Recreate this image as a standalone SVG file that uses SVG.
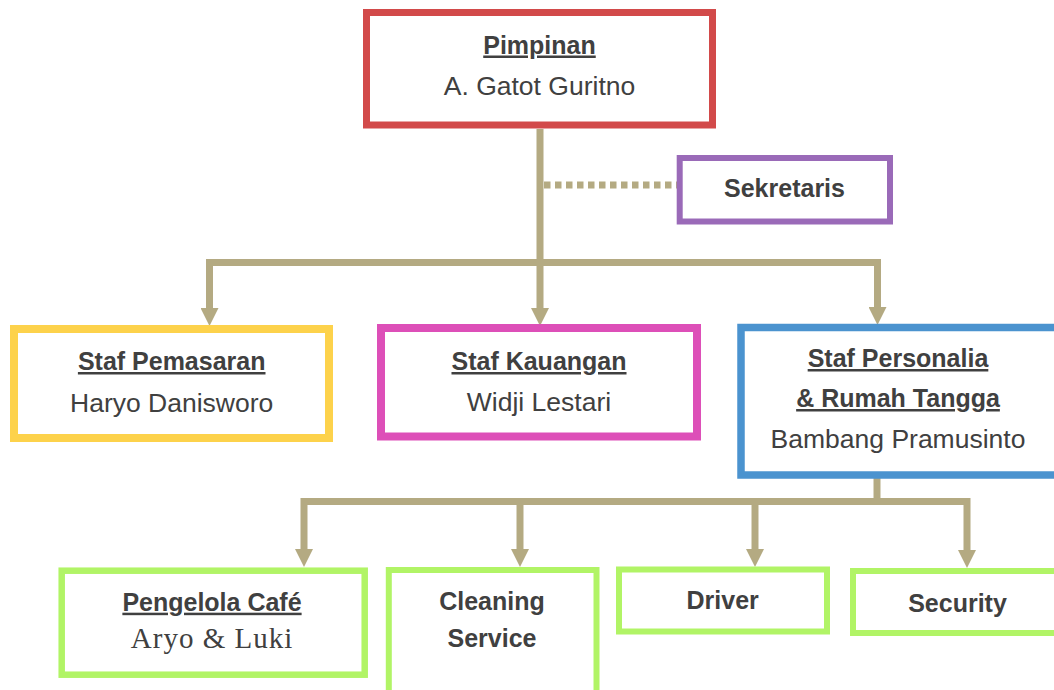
<svg xmlns="http://www.w3.org/2000/svg" width="1054" height="690" viewBox="0 0 1054 690">
  <style>
    .box { fill: #ffffff; }
    .t { font-family: "Liberation Sans", Arial, sans-serif; fill: #404040; text-anchor: middle; }
    .h { font-weight: bold; font-size: 25px; }
    .u { text-decoration: underline; }
    .n { font-size: 26.5px; }
    .s { font-family: "Liberation Serif", "Times New Roman", serif; font-size: 29px; letter-spacing: 1px; fill: #404040; text-anchor: middle; }
    .conn { fill: none; stroke: #b4aa82; stroke-width: 7; stroke-linejoin: miter; }
    .arr { marker-end: url(#ah); }
    .dot { fill: none; stroke: #b4aa82; stroke-width: 7; stroke-dasharray: 6.5 4.5; }
  </style>
  <defs>
    <marker id="ah" markerUnits="userSpaceOnUse" markerWidth="18" markerHeight="18" refX="8" refY="9" orient="auto" viewBox="0 0 18 18">
      <path d="M0,0 L18,9 L0,18 Z" fill="#b4aa82"/>
    </marker>
  </defs>
  <rect x="0" y="0" width="1054" height="690" fill="#ffffff"/>

  <g id="connectors">
    <path class="conn arr" d="M540,129 V316"/>
    <path class="conn arr" d="M540,262.5 H209.5 V316"/>
    <path class="conn arr" d="M540,262.5 H877.5 V315"/>
    <path class="dot" d="M544,185 H677"/>
    <path class="conn" d="M877,476 V501.5"/>
    <path class="conn arr" d="M877,501.5 H304 V557"/>
    <path class="conn arr" d="M877,501.5 H967 V558"/>
    <path class="conn arr" d="M520,501.5 V557"/>
    <path class="conn arr" d="M755,501.5 V557"/>
  </g>

  <g id="pimpinan">
    <rect class="box" x="366.5" y="12.5" width="346" height="112.5" stroke="#d24a4a" stroke-width="7"/>
    <text class="t h u" x="539.5" y="53.5">Pimpinan</text>
    <text class="t n" x="539.5" y="95">A. Gatot Guritno</text>
  </g>

  <g id="sekretaris">
    <rect class="box" x="679.7" y="158" width="210.3" height="63.5" stroke="#9a6ab8" stroke-width="6"/>
    <text class="t h" x="784.5" y="197">Sekretaris</text>
  </g>

  <g id="staf-pemasaran">
    <rect class="box" x="14" y="329" width="315" height="109" stroke="#fdd24b" stroke-width="8"/>
    <text class="t h u" x="171.7" y="370">Staf Pemasaran</text>
    <text class="t n" x="171.7" y="411.5">Haryo Danisworo</text>
  </g>

  <g id="staf-kauangan">
    <rect class="box" x="381" y="328" width="316" height="108.5" stroke="#dd4fb8" stroke-width="8"/>
    <text class="t h u" x="539" y="370">Staf Kauangan</text>
    <text class="t n" x="539" y="410.7">Widji Lestari</text>
  </g>

  <g id="staf-personalia">
    <rect class="box" x="741" y="327.5" width="320" height="147.5" stroke="#4b93cf" stroke-width="7.5"/>
    <text class="t h u" x="898" y="367">Staf Personalia</text>
    <text class="t h u" x="898" y="407">&amp; Rumah Tangga</text>
    <text class="t n" x="898" y="448">Bambang Pramusinto</text>
  </g>

  <g id="pengelola-cafe">
    <rect class="box" x="61.7" y="570.7" width="303" height="104" stroke="#b1f466" stroke-width="6.5"/>
    <text class="t h u" x="212" y="610.7">Pengelola Café</text>
    <text class="s" x="212" y="648.3">Aryo &amp; Luki</text>
  </g>

  <g id="cleaning-service">
    <rect class="box" x="388.8" y="570" width="207.7" height="130" stroke="#b1f466" stroke-width="6"/>
    <text class="t h" x="492" y="610">Cleaning</text>
    <text class="t h" x="492" y="646.7">Service</text>
  </g>

  <g id="driver">
    <rect class="box" x="619" y="569.5" width="208" height="62" stroke="#b1f466" stroke-width="6"/>
    <text class="t h" x="722.7" y="609.3">Driver</text>
  </g>

  <g id="security">
    <rect class="box" x="853" y="571" width="210" height="62" stroke="#b1f466" stroke-width="6"/>
    <text class="t h" x="957.5" y="611.7">Security</text>
  </g>
</svg>
